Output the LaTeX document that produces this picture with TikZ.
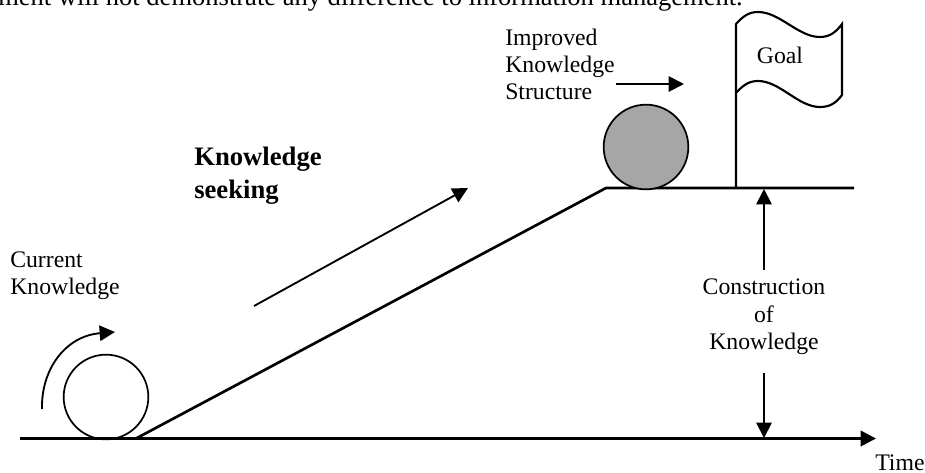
\documentclass[tikz,border=0pt]{standalone}
\usepackage{fontspec}
\setmainfont{Liberation Serif}
\usetikzlibrary{arrows.meta}
\tikzset{
  px/.style={x=0.75pt,y=-0.75pt},
  lbl/.style={inner sep=0pt,font=\fontsize{17.8}{20.2}\selectfont,align=left,anchor=base west},
  ctr/.style={inner sep=0pt,font=\fontsize{17.8}{20.2}\selectfont,align=center,anchor=base},
  heavy/.style={line width=2pt,black},
  thin line/.style={line width=1.4pt,black},
  tip/.style={-{Triangle[length=11.5pt,width=11.5pt]}},
  ballc/.style={circle,draw=black,line width=1.3pt,minimum size=63.5pt,inner sep=0pt}
}
\definecolor{ballgray}{HTML}{A6A6A6}
\begin{document}
\begin{tikzpicture}[px]
\useasboundingbox (0,0) rectangle (925,472);
\node[inner sep=0pt,anchor=base east,font=\fontsize{19.9}{24}\selectfont] (top) at (743,5) {ment will not demonstrate any difference to information management.};
% ground and ramp
\coordinate (g0) at (20,438.5);
\coordinate (g1) at (876,438.5);
\coordinate (r0) at (136,438.5);
\coordinate (r1) at (606,188);
\coordinate (p1) at (854,188);
\draw[heavy,tip] (g0) -- (g1);
\draw[heavy] (r0) -- (r1) -- (p1);
% balls
\node[ballc] (cur) at (106,397) {};
\node[ballc,fill=ballgray] (imp) at (646,147) {};
% flag
\coordinate (poleb) at (736,188);
\coordinate (polet) at (736,24);
\draw[line width=1.6pt] (poleb) -- (polet)
  .. controls (744,15) and (750,12) .. (758,12)
  .. controls (780,12) and (798,37) .. (820,37)
  .. controls (830,37) and (836,32) .. (842,24)
  -- (842,95)
  .. controls (836,103) and (830,107) .. (820,107)
  .. controls (798,107) and (780,81) .. (758,81)
  .. controls (750,81) and (744,84) .. (736,93);
\node[ctr] (goal) at (780,63) {Goal};
% labels
\node[lbl] (ik1) at (505,45) {Improved};
\node[lbl] (ik2) at (505,72) {Knowledge};
\node[lbl] (ik3) at (505,99) {Structure};
\coordinate (ia) at (616,84);
\coordinate (ib) at (684,84);
\draw[thin line,tip] (ia) -- (ib);
\node[inner sep=0pt,font=\bfseries\fontsize{20}{24}\selectfont,anchor=base west] (ks1) at (194,165) {Knowledge};
\node[inner sep=0pt,font=\bfseries\fontsize{20}{24}\selectfont,anchor=base west] (ks2) at (194,198) {seeking};
\coordinate (ka) at (254,306);
\coordinate (kb) at (468,188);
\draw[thin line,tip] (ka) -- (kb);
\node[lbl] (ck1) at (10,267) {Current};
\node[lbl] (ck2) at (10,294) {Knowledge};
\coordinate (ca) at (42,409);
\coordinate (cb) at (115,332);
\draw[thin line,tip] (ca) .. controls (41,370) and (65,336) .. (cb);
\node[ctr] (con1) at (764,294) {Construction};
\node[ctr] (con2) at (764,322) {of};
\node[ctr] (con3) at (764,349) {Knowledge};
\coordinate (ua) at (764,270);
\coordinate (ut) at (764,189);
\coordinate (da) at (764,373);
\coordinate (dt) at (764,438);
\draw[thin line,tip] (ua) -- (ut);
\draw[thin line,tip] (da) -- (dt);
\node[lbl] (time) at (875,470) {Time};
\end{tikzpicture}
\end{document}
